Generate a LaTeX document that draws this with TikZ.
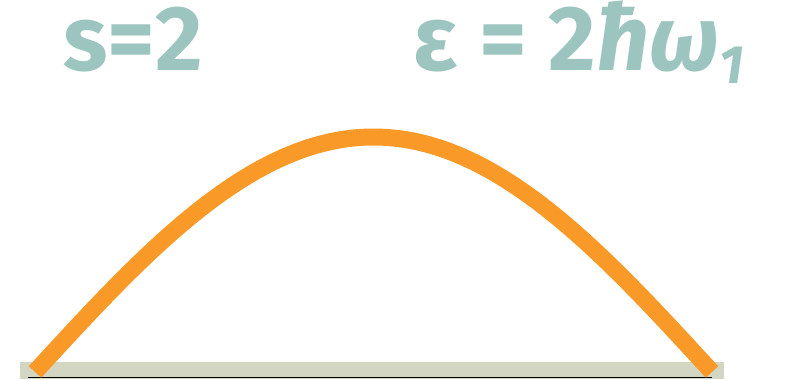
\documentclass[tikz,border=0pt]{standalone}
\usepackage{fontspec}
\setmainfont{Fira Sans}
\definecolor{tealtxt}{HTML}{9DC5C0}
\definecolor{curveorange}{HTML}{F99A28}
\definecolor{barfill}{HTML}{D3D6C3}
\definecolor{baseline}{HTML}{3A3A34}
\tikzset{
  label/.style={anchor=base west, inner sep=0pt, text=tealtxt, font=\fontsize{92}{92}\selectfont\bfseries},
  wave/.style={line width=17pt, draw=curveorange},
}
\begin{document}
\begin{tikzpicture}[x=1pt,y=1pt]
\useasboundingbox (0,0) rectangle (788,380);
% ground bar
\fill[barfill] (20,1) rectangle (724,18);
\draw[baseline, line width=1.5pt] (28,2.5) -- (712,2.5);
% half sine
\draw[wave] plot[domain=0:180, samples=120, smooth] ({35+\x*(677/180)}, {8+235*sin(\x)});
% labels
\node[label] (s) at (63,309) {s=2};
\node[label] (e) at (413,309) {ε = 2\itshape ħω\raisebox{-13pt}{\fontsize{54}{54}\selectfont 1}};
\end{tikzpicture}
\end{document}
